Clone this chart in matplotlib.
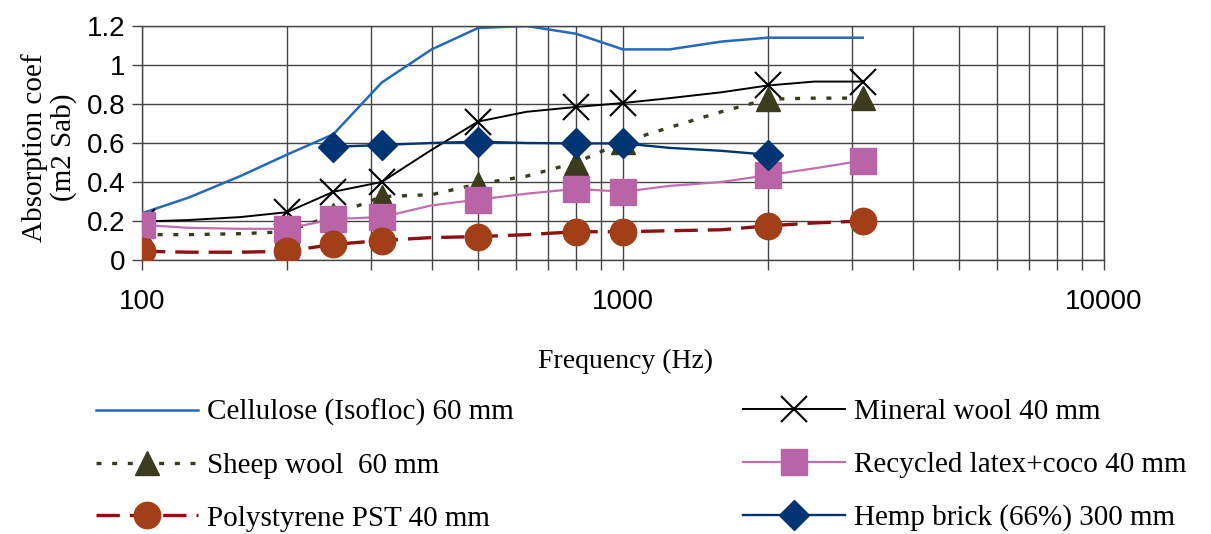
import matplotlib
matplotlib.use('Agg')
import matplotlib.pyplot as plt

# Third-octave frequencies (Hz)
FREQ = [100, 125, 160, 200, 250, 315, 400, 500, 630, 800, 1000, 1250, 1600, 2000, 2500, 3150]
FREQ_HEMP = [250, 315, 400, 500, 630, 800, 1000, 1250, 1600, 2000]
# frequencies where the measured points carry a marker
MARK_FREQ = [100, 200, 250, 315, 500, 800, 1000, 2000, 3150]

CELLULOSE = [0.24, 0.32, 0.43, 0.54, 0.645, 0.91, 1.08, 1.19, 1.20, 1.16, 1.08, 1.08, 1.12, 1.14, 1.14, 1.14]
MINERAL = [0.197, 0.205, 0.22, 0.245, 0.35, 0.40, 0.565, 0.71, 0.76, 0.785, 0.805, 0.83, 0.86, 0.895, 0.915, 0.915]
SHEEP = [0.13, 0.13, 0.135, 0.145, 0.23, 0.325, 0.335, 0.39, 0.43, 0.50, 0.605, 0.68, 0.76, 0.825, 0.83, 0.83]
LATEX = [0.18, 0.165, 0.16, 0.16, 0.21, 0.22, 0.28, 0.31, 0.34, 0.365, 0.35, 0.38, 0.40, 0.435, 0.47, 0.51]
PST = [0.045, 0.04, 0.04, 0.045, 0.08, 0.10, 0.115, 0.12, 0.13, 0.145, 0.145, 0.15, 0.155, 0.175, 0.19, 0.20]
HEMP = [0.58, 0.59, 0.60, 0.607, 0.60, 0.598, 0.598, 0.575, 0.56, 0.54]

LABELS = ['Cellulose (Isofloc) 60 mm', 'Sheep wool  60 mm', 'Polystyrene PST 40 mm',
          'Mineral wool 40 mm', 'Recycled latex+coco 40 mm', 'Hemp brick (66%) 300 mm']

SERIF = 'Liberation Serif'
SANS = 'Liberation Sans'


def marks(freqs):
    return [i for i, f in enumerate(freqs) if f in MARK_FREQ]


fig = plt.figure(figsize=(12.11, 5.34), dpi=100)
ax = fig.add_axes([142 / 1211, 1 - 260 / 534, 962 / 1211, 234 / 534])

l_cell, = ax.plot(FREQ, CELLULOSE, color='#2469bd', lw=1.8, zorder=2)
l_min, = ax.plot(FREQ, MINERAL, color='black', lw=1.4, marker='x', ms=19, mew=1.5,
                 markevery=marks(FREQ), zorder=3)
l_sheep, = ax.plot(FREQ, SHEEP, color='#3b3b1e', lw=2.4, ls=(0, (1.5, 3.2)), marker='^', ms=17,
                   markevery=marks(FREQ), zorder=4)
l_latex, = ax.plot(FREQ, LATEX, color='#c070b0', mfc='#b864a6', mec='#b864a6', lw=1.6, marker='s',
                   ms=19, markevery=marks(FREQ), zorder=5)
l_pst, = ax.plot(FREQ, PST, color='#8e1010', lw=2.4, ls=(0, (7, 3)), marker='o', ms=19,
                 mfc='#a23f18', mec='#a23f18', markevery=marks(FREQ), zorder=6)
l_hemp, = ax.plot(FREQ_HEMP, HEMP, color='#003473', lw=1.7, marker='D', ms=15,
                  markevery=marks(FREQ_HEMP), zorder=7)

ax.set_xscale('log')
ax.set_xlim(100, 10000)
ax.set_ylim(0, 1.2)
ax.set_yticks([0, 0.2, 0.4, 0.6, 0.8, 1.0, 1.2])
ax.set_yticklabels(['0', '0.2', '0.4', '0.6', '0.8', '1', '1.2'])
ax.set_xticks([100, 1000, 10000])
ax.set_xticklabels(['100', '1000', '10000'])
ax.grid(True, which='both', axis='x', color='#444444', lw=1.0)
ax.grid(True, which='major', axis='y', color='#444444', lw=1.0)
ax.set_axisbelow(True)
for s in ax.spines.values():
    s.set_color('#444444')
    s.set_linewidth(1.0)
ax.tick_params(axis='both', which='both', direction='out', color='#444444', length=7, width=1.0)
ax.tick_params(axis='x', which='minor', labelbottom=False)
ax.tick_params(axis='x', which='major', pad=14)
ax.tick_params(axis='y', which='major', pad=5)
for t in ax.get_xticklabels() + ax.get_yticklabels():
    t.set_fontfamily(SANS)
    t.set_fontsize(20)

ax.set_xlabel('Frequency (Hz)', fontfamily=SERIF, fontsize=20)
ax.xaxis.set_label_coords(0.503, -0.38)
ax.set_ylabel('Absorption coef\n(m2 Sab)', fontfamily=SERIF, fontsize=21, linespacing=1.1)
ax.yaxis.set_label_coords(-0.068, 0.48)

kw = dict(frameon=False, prop={'family': SERIF, 'size': 21}, handlelength=3.5,
          handletextpad=0.3, labelspacing=0.9, borderpad=0, borderaxespad=0, loc='upper left')
fig.legend([l_cell, l_sheep, l_pst], LABELS[:3], bbox_to_anchor=(96 / 1211, 1 - 399 / 534), **kw)
fig.legend([l_min, l_latex, l_hemp], LABELS[3:], bbox_to_anchor=(743 / 1211, 1 - 399 / 534), **kw)

fig.savefig('out.png', dpi=100)
